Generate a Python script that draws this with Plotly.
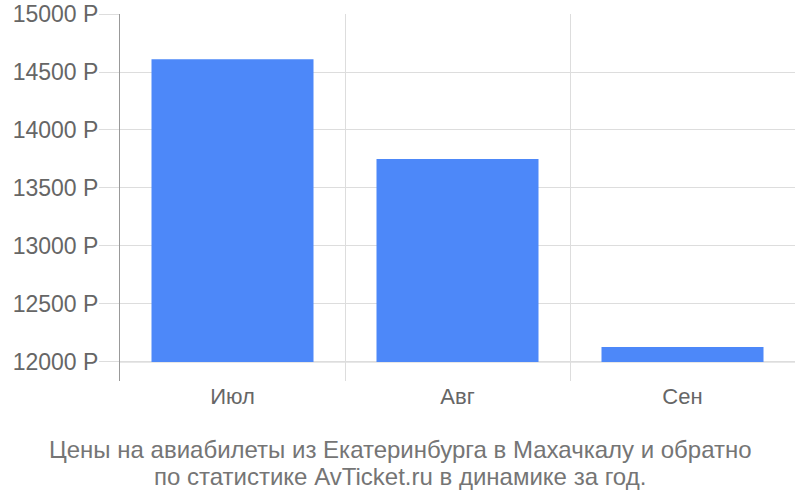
import plotly.graph_objects as go

months = ["Июл", "Авг", "Сен"]
prices = [14610, 13750, 12130]
base_price = 12000
y_ticks = [12000, 12500, 13000, 13500, 14000, 14500, 15000]
title_lines = [
    "Цены на авиабилеты из Екатеринбурга в Махачкалу и обратно",
    "по статистике AvTicket.ru в динамике за год.",
]

fig = go.Figure()
fig.add_trace(go.Bar(
    x=months,
    y=[p - base_price for p in prices],
    base=base_price,
    width=0.72,
    marker=dict(color="#4d88f9", line=dict(width=0)),
    hovertemplate="%{x}: %{customdata} Р<extra></extra>",
    customdata=prices,
))

L, R, T, B, W, H = 120, 5, 14, 119, 800, 500
plot_w = W - L - R
plot_h = H - T - B
title_y_px = [449, 476]
for line, ypx in zip(title_lines, title_y_px):
    fig.add_annotation(
        text=line, showarrow=False,
        xref="paper", yref="paper",
        x=(400 - L) / plot_w, y=(H - B - ypx) / plot_h,
        xanchor="center", yanchor="middle",
        font=dict(size=24, color="#757575"),
    )

fig.update_layout(
    width=W, height=H,
    margin=dict(l=L, r=R, t=T, b=B, autoexpand=False),
    paper_bgcolor="white", plot_bgcolor="white",
    font=dict(family="Liberation Sans, Arial, sans-serif", color="#666666", size=20),
    showlegend=False,
    xaxis=dict(
        type="category",
        tickson="boundaries",
        showgrid=True, gridcolor="#dddddd", gridwidth=1,
        ticks="", showline=False, zeroline=False,
        automargin=False,
        tickfont=dict(size=22, color="#666666"),
    ),
    yaxis=dict(
        range=[11836, 15000],
        tickvals=y_ticks,
        ticktext=[f"{v} Р" for v in y_ticks],
        showgrid=True, gridcolor="#dddddd", gridwidth=1,
        ticks="outside", ticklen=20, tickcolor="#dddddd",
        ticklabelstandoff=-4,
        showline=True, linecolor="#999999", linewidth=1,
        zeroline=False,
        automargin=False,
        tickfont=dict(size=23, color="#666666"),
    ),
)
fig.add_hline(y=base_price, line=dict(color="#cccccc", width=1), layer="below")

# remove the browser's default 8px body margin so the figure sits at the page origin
fig.write_html("out.html", config={"displayModeBar": False},
               post_script="document.body.style.margin='0';")
